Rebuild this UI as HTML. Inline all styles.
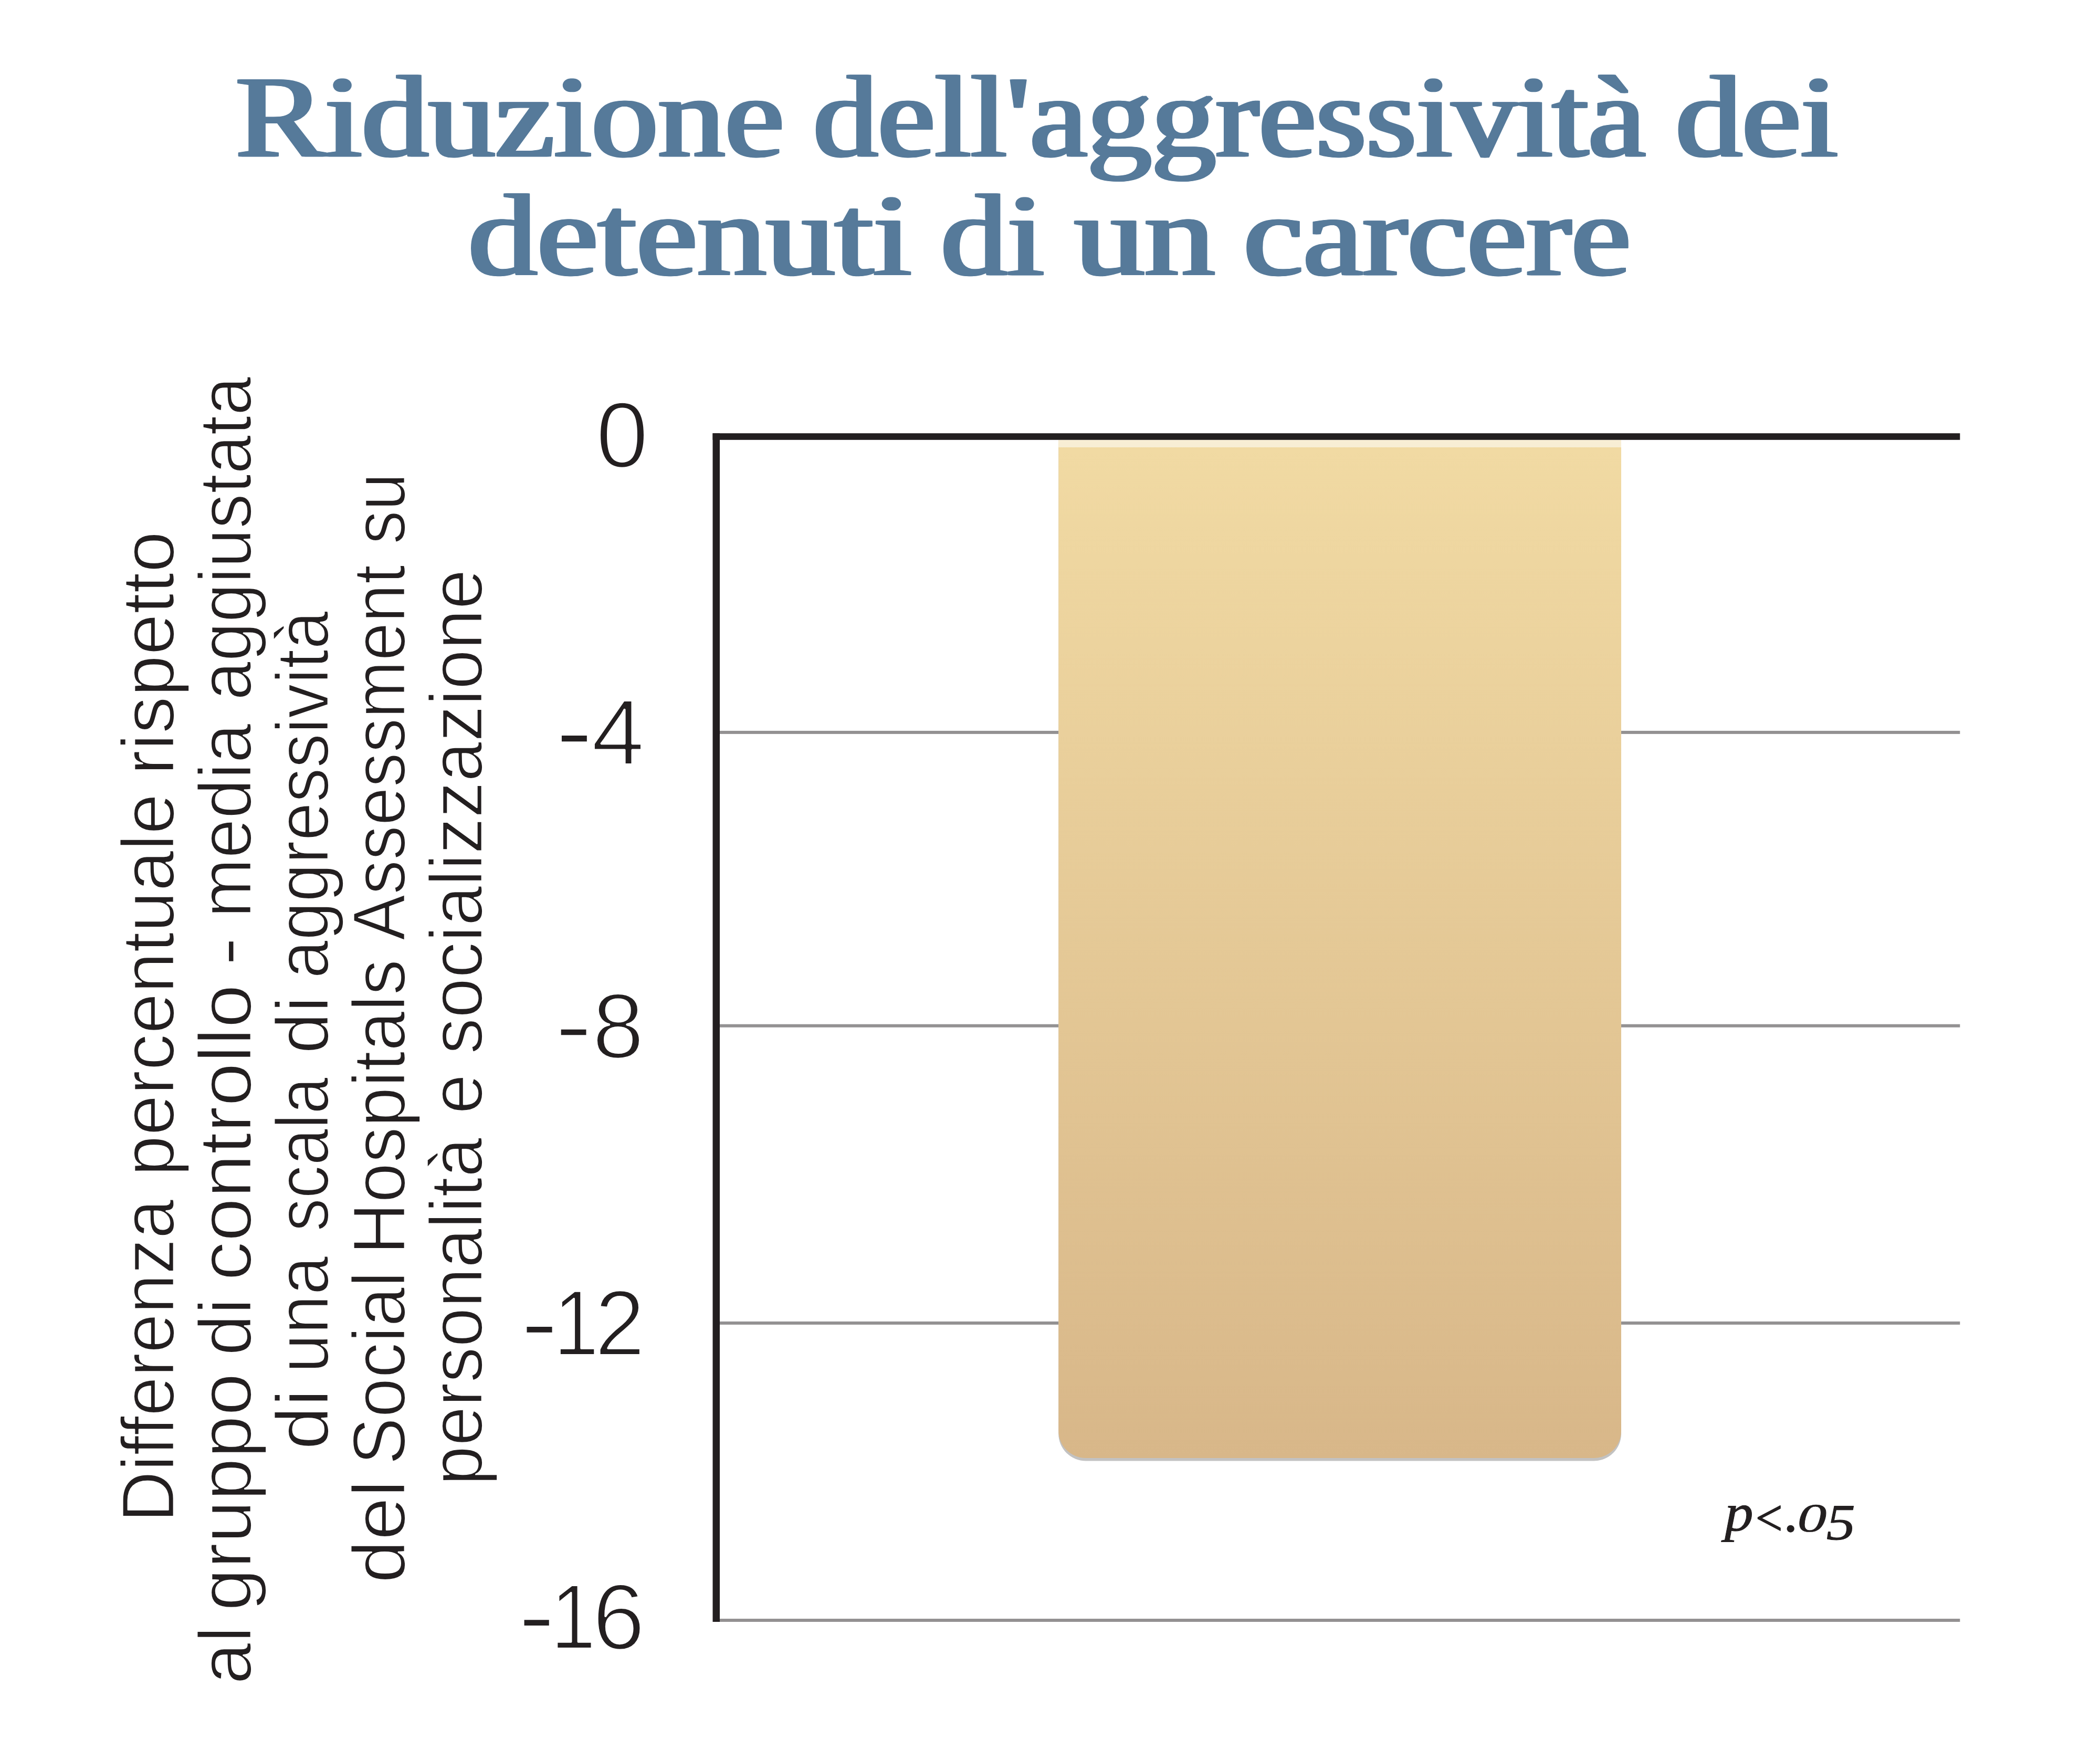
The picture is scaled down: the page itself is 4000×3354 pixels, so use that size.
<!DOCTYPE html>
<html lang="it"><head><meta charset="utf-8"><title>Riduzione dell'aggressività dei detenuti di un carcere</title>
<style>
html,body{margin:0;padding:0;background:#fff;}
body{width:4000px;height:3354px;overflow:hidden;}
svg{display:block;position:absolute;left:0;top:0;}
text,tspan{text-rendering:geometricPrecision;font-kerning:none;font-variant-ligatures:none;stroke-linejoin:round;}
.sans{font-family:"Liberation Sans",sans-serif;fill:#231f20;}
.title{font-family:"Liberation Serif",serif;fill:#567a9a;}
.titleb{font-family:"Liberation Serif",serif;font-weight:700;fill:#567a9a;}
.ital{font-family:"Liberation Serif",serif;font-style:italic;fill:#231f20;}
</style></head><body>
<svg width="4000" height="3354" viewBox="0 0 4000 3354">
<defs><linearGradient id="bg" x1="0" y1="0" x2="0" y2="1"><stop offset="0" stop-color="#f1daa3"/><stop offset="1" stop-color="#d8b789"/></linearGradient>
<filter id="hb" x="-2%" y="-10%" width="104%" height="120%"><feOffset in="SourceGraphic" dx="3" result="a"/><feOffset in="SourceGraphic" dx="-3" result="b"/><feMerge><feMergeNode in="a"/><feMergeNode in="b"/><feMergeNode in="SourceGraphic"/></feMerge></filter></defs>
<rect x="0" y="0" width="4000" height="3354" fill="#fff"/>

<g id="grid">
<rect x="1370.0" y="1391.9" width="2363.3" height="6" fill="#939192"/>
<rect x="1370.0" y="1950.7" width="2363.3" height="6" fill="#939192"/>
<rect x="1370.0" y="2516.9" width="2363.3" height="6" fill="#939192"/>
<rect x="1370.0" y="3083.0" width="2363.3" height="6" fill="#939192"/>
</g>
<g id="bar">
<path d="M2016.2 843.5H3088.0V2730.5A52 52 0 0 1 3036.0 2782.5H2068.2A52 52 0 0 1 2016.2 2730.5Z" fill="#c2c2c2"/>
<path d="M2016.2 838.0H3088.0V2725.0A52 52 0 0 1 3036.0 2777.0H2068.2A52 52 0 0 1 2016.2 2725.0Z" fill="url(#bg)"/>
<rect x="2016.2" y="838.0" width="1071.8" height="14" fill="#f8eed5"/>
</g>
<g id="axes" fill="#231f20">
<rect x="1357.5" y="825.2" width="13.5" height="2263.8"/>
<rect x="1357.5" y="825.2" width="2375.8" height="12.6"/>
</g>
<g id="title" filter="url(#hb)">
<text><tspan class="title" x="448.97" y="297.48" font-size="221.06" textLength="1044.54" lengthAdjust="spacingAndGlyphs" stroke="#567a9a" stroke-width="2.25">Riduzione</tspan> <tspan class="title" x="1549.38" y="297.48" font-size="221.06" textLength="1584.73" lengthAdjust="spacingAndGlyphs" stroke="#567a9a" stroke-width="2.25">dell'aggressività</tspan> <tspan class="title" x="3191.65" y="297.48" font-size="221.06" textLength="308.88" lengthAdjust="spacingAndGlyphs" stroke="#567a9a" stroke-width="2.25">dei</tspan></text>
<text><tspan class="title" x="891.86" y="522.88" font-size="221.06" textLength="844.19" lengthAdjust="spacingAndGlyphs" stroke="#567a9a" stroke-width="2.25">detenuti</tspan> <tspan class="title" x="1792.16" y="522.88" font-size="221.06" textLength="196.36" lengthAdjust="spacingAndGlyphs" stroke="#567a9a" stroke-width="2.25">di</tspan> <tspan class="title" x="2046.54" y="522.88" font-size="221.06" textLength="267.45" lengthAdjust="spacingAndGlyphs" stroke="#567a9a" stroke-width="2.25">un</tspan> <tspan class="title" x="2368.87" y="522.88" font-size="221.06" textLength="737.39" lengthAdjust="spacingAndGlyphs" stroke="#567a9a" stroke-width="2.25">carcere</tspan></text>
</g>
<g id="ylabel" transform="translate(0 3354) rotate(-90)">
<text><tspan class="sans" x="454.69" y="331.10" font-size="142.00" textLength="615.04" lengthAdjust="spacingAndGlyphs" stroke="#fff" stroke-width="2.6">Differenza</tspan> <tspan class="sans" x="1113.84" y="331.10" font-size="142.00" textLength="728.63" lengthAdjust="spacingAndGlyphs" stroke="#fff" stroke-width="2.6">percentuale</tspan> <tspan class="sans" x="1878.11" y="331.10" font-size="142.00" textLength="464.13" lengthAdjust="spacingAndGlyphs" stroke="#fff" stroke-width="2.6">rispetto</tspan></text>
<text><tspan class="sans" x="146.05" y="478.30" font-size="142.00" textLength="110.77" lengthAdjust="spacingAndGlyphs" stroke="#fff" stroke-width="2.6">al</tspan> <tspan class="sans" x="285.86" y="478.30" font-size="142.00" textLength="452.88" lengthAdjust="spacingAndGlyphs" stroke="#fff" stroke-width="2.6">gruppo</tspan> <tspan class="sans" x="771.77" y="478.30" font-size="142.00" textLength="110.05" lengthAdjust="spacingAndGlyphs" stroke="#fff" stroke-width="2.6">di</tspan> <tspan class="sans" x="914.69" y="478.30" font-size="142.00" textLength="564.45" lengthAdjust="spacingAndGlyphs" stroke="#fff" stroke-width="2.6">controllo</tspan> <tspan class="sans" x="1514.20" y="478.30" font-size="142.00" textLength="55.30" lengthAdjust="spacingAndGlyphs" stroke="#fff" stroke-width="2.6">-</tspan> <tspan class="sans" x="1605.93" y="478.30" font-size="142.00" textLength="370.32" lengthAdjust="spacingAndGlyphs" stroke="#fff" stroke-width="2.6">media</tspan> <tspan class="sans" x="2020.10" y="478.30" font-size="142.00" textLength="616.72" lengthAdjust="spacingAndGlyphs" stroke="#fff" stroke-width="2.6">aggiustata</tspan></text>
<text><tspan class="sans" x="592.81" y="624.70" font-size="142.00" textLength="115.56" lengthAdjust="spacingAndGlyphs" stroke="#fff" stroke-width="2.6">di</tspan> <tspan class="sans" x="739.11" y="624.70" font-size="142.00" textLength="222.71" lengthAdjust="spacingAndGlyphs" stroke="#fff" stroke-width="2.6">una</tspan> <tspan class="sans" x="1008.65" y="624.70" font-size="142.00" textLength="293.60" lengthAdjust="spacingAndGlyphs" stroke="#fff" stroke-width="2.6">scala</tspan> <tspan class="sans" x="1346.77" y="624.70" font-size="142.00" textLength="110.05" lengthAdjust="spacingAndGlyphs" stroke="#fff" stroke-width="2.6">di</tspan> <tspan class="sans" x="1490.23" y="624.70" font-size="142.00" textLength="699.97" lengthAdjust="spacingAndGlyphs" stroke="#fff" stroke-width="2.6">aggressività</tspan></text>
<text><tspan class="sans" x="338.46" y="771.30" font-size="142.00" textLength="196.75" lengthAdjust="spacingAndGlyphs" stroke="#fff" stroke-width="2.6">del</tspan> <tspan class="sans" x="564.01" y="771.30" font-size="142.00" textLength="368.68" lengthAdjust="spacingAndGlyphs" stroke="#fff" stroke-width="2.6">Social</tspan> <tspan class="sans" x="964.53" y="771.30" font-size="142.00" textLength="562.26" lengthAdjust="spacingAndGlyphs" stroke="#fff" stroke-width="2.6">Hospitals</tspan> <tspan class="sans" x="1562.74" y="771.30" font-size="142.00" textLength="715.42" lengthAdjust="spacingAndGlyphs" stroke="#fff" stroke-width="2.6">Assessment</tspan> <tspan class="sans" x="2317.55" y="771.30" font-size="142.00" textLength="135.54" lengthAdjust="spacingAndGlyphs" stroke="#fff" stroke-width="2.6">su</tspan></text>
<text><tspan class="sans" x="525.04" y="918.00" font-size="142.00" textLength="662.20" lengthAdjust="spacingAndGlyphs" stroke="#fff" stroke-width="2.6">personalità</tspan> <tspan class="sans" x="1232.22" y="918.00" font-size="142.00" textLength="76.22" lengthAdjust="spacingAndGlyphs" stroke="#fff" stroke-width="2.6">e</tspan> <tspan class="sans" x="1346.22" y="918.00" font-size="142.00" textLength="923.54" lengthAdjust="spacingAndGlyphs" stroke="#fff" stroke-width="2.6">socializzazione</tspan></text>
</g>
<g id="ticks">
<text><tspan class="sans" x="1134.94" y="889.56" font-size="177.82" textLength="100.11" lengthAdjust="spacingAndGlyphs" stroke="#fff" stroke-width="4">0</tspan></text>
<text><tspan class="sans" x="1061.28" y="1444.77" font-size="144.64" textLength="65.34" lengthAdjust="spacingAndGlyphs">-</tspan><tspan class="sans" x="1126.81" y="1456.30" font-size="177.18" textLength="100.52" lengthAdjust="spacingAndGlyphs" stroke="#fff" stroke-width="4">4</tspan></text>
<text><tspan class="sans" x="1059.90" y="2002.04" font-size="135.68" textLength="65.20" lengthAdjust="spacingAndGlyphs">-</tspan><tspan class="sans" x="1128.20" y="2015.28" font-size="176.13" textLength="98.39" lengthAdjust="spacingAndGlyphs" stroke="#fff" stroke-width="4">8</tspan></text>
<text><tspan class="sans" x="994.85" y="2568.52" font-size="138.24" textLength="65.61" lengthAdjust="spacingAndGlyphs">-</tspan><tspan class="sans" x="1054.32" y="2581.00" font-size="177.76" textLength="86.42" lengthAdjust="spacingAndGlyphs" stroke="#fff" stroke-width="4">1</tspan><tspan class="sans" x="1133.03" y="2581.00" font-size="177.16" textLength="95.43" lengthAdjust="spacingAndGlyphs" stroke="#fff" stroke-width="4">2</tspan></text>
<text><tspan class="sans" x="989.91" y="3127.43" font-size="136.96" textLength="64.38" lengthAdjust="spacingAndGlyphs">-</tspan><tspan class="sans" x="1048.83" y="3140.00" font-size="175.88" textLength="86.20" lengthAdjust="spacingAndGlyphs" stroke="#fff" stroke-width="4">1</tspan><tspan class="sans" x="1128.55" y="3140.96" font-size="177.68" textLength="99.98" lengthAdjust="spacingAndGlyphs" stroke="#fff" stroke-width="4">6</tspan></text>
</g>
<g id="pval">
<text><tspan class="ital" x="3284.95" y="2914.86" font-size="101.16" textLength="54.72" lengthAdjust="spacingAndGlyphs" stroke="#231f20" stroke-width="1">p</tspan><tspan class="ital" x="3337.91" y="2923.65" font-size="98.05" textLength="61.92" lengthAdjust="spacingAndGlyphs" stroke="#231f20" stroke-width="1.5">&lt;</tspan><tspan class="ital" x="3398.58" y="2916.62" font-size="118.48" textLength="30.25" lengthAdjust="spacingAndGlyphs">.</tspan><tspan class="ital" x="3423.60" y="2916.80" font-size="76.61" textLength="55.91" lengthAdjust="spacingAndGlyphs" stroke="#231f20" stroke-width="0.7">0</tspan><tspan class="ital" x="3478.65" y="2931.85" font-size="96.91" textLength="55.06" lengthAdjust="spacingAndGlyphs" stroke="#231f20" stroke-width="1">5</tspan></text>
</g>
</svg>
</body></html>
